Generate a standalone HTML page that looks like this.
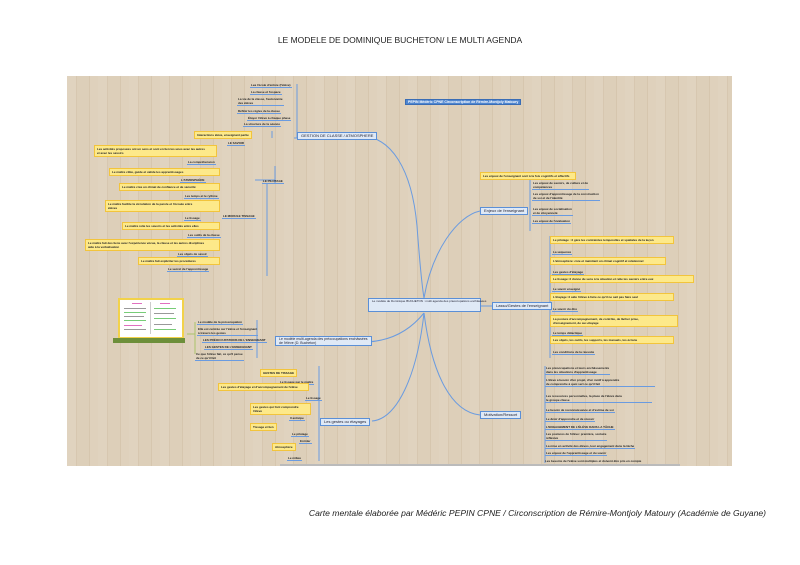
<!DOCTYPE html>
<html><head><meta charset="utf-8"><style>
body{margin:0;width:800px;height:565px;background:#fff;position:relative;overflow:hidden;font-family:"Liberation Sans",sans-serif}
#map{position:absolute;left:67px;top:76px;width:665px;height:390px;background:#dccdb6;
background-image:repeating-linear-gradient(90deg,rgba(255,255,255,.12) 0 9px,rgba(150,120,90,.07) 9px 10px,rgba(255,255,255,.04) 10px 22px,rgba(140,110,80,.08) 22px 23px,rgba(255,255,255,.08) 23px 31px);overflow:hidden}
.a{position:absolute;white-space:nowrap;font-size:3px;line-height:4px;color:#222;font-weight:bold}
.t{border-bottom:1px solid #6a9be0;padding:0 1px}
.y{background:#fde98a;border:1px solid #f2c43c;padding:1px 2px}
.b{background:#dfe9f6;border:1px solid #5b8fd6;font-size:4px;line-height:6px;padding:0 3px;color:#223;font-weight:normal}
.th{position:absolute;height:1px}
</style></head><body>
<div style="position:absolute;top:35px;width:800px;text-align:center;font-size:8.5px;color:#222">LE MODELE DE DOMINIQUE BUCHETON/ LE MULTI AGENDA</div>
<div style="position:absolute;top:508px;right:34px;font-size:8.6px;font-style:italic;color:#222">Carte mentale élaborée par Médéric PEPIN CPNE / Circonscription de Rémire-Montjoly Matoury (Académie de Guyane)</div>
<div id="map">
<svg width="665" height="390" style="position:absolute;left:0;top:0" fill="none" stroke="#6a9be0" stroke-width="1">
<path d="M290 60 C325 58 345 95 350 150 C353 190 355 210 357 222"/>
<path d="M357 222 C365 175 390 140 413 135"/>
<path d="M413 230 h12"/>
<path d="M357 237 C365 300 385 336 413 339"/>
<path d="M357 237 C340 258 320 265 300 266"/>
<path d="M357 237 C350 300 330 343 305 345"/>
<path d="M230 8 V62 M230 62 h-3 M208 90 V108 M208 104 h-20 M200 108 V200 M205 55 V62"/>
<path d="M463 100 V155 M483 160 V282 M478 290 V387 M190 244 V282 M252 290 V385"/>
<path stroke="#aac36a" d="M120 258 h8 v-12 M128 258 v20"/>
</svg>
<div class="a" style="left:338px;top:23px;background:#4f86d0;color:#fff;padding:0 2px;font-size:3.5px;border:1px solid #3a6db5">PEPIN Médéric CPNE Circonscription de Rémire-Montjoly Matoury</div>
<div class="a b" style="left:230px;top:56px">GESTION DE CLASSE / ATMOSPHERE</div>
<div class="a b" style="left:413px;top:131px">Enjeux  de l'enseignant</div>
<div class="a b" style="left:425px;top:226px">Lasso/Gestes de l'enseignant</div>
<div class="a b" style="left:413px;top:335px">Motivation/Ressort</div>
<div class="a b" style="left:208px;top:260px;line-height:4px;font-size:3.5px">Le modèle multi-agenda des préoccupations enchâssées<br>de l'élève (D. Bucheton)</div>
<div class="a b" style="left:253px;top:342px">Les gestes ou étayages</div>
<div class="a b" style="left:301px;top:222px;width:105px;height:12px;line-height:5px;font-size:3px;text-align:center">Le modèle de Dominique BUCHETON : multi agenda des préoccupations enchâssées</div>
<div class="a" style="left:51px;top:222px;width:62px;height:37px;background:#fff;border:2px solid #f2d24a">
<div class="th" style="left:12px;top:3px;width:10px;background:#e070c0"></div>
<div class="th" style="left:40px;top:3px;width:10px;background:#e070c0"></div>
<div class="th" style="left:30px;top:2px;width:1px;height:32px;background:#ccc"></div>
<div class="th" style="left:4px;top:8px;width:22px;background:#999"></div>
<div class="th" style="left:4px;top:12px;width:22px;background:#7c7"></div>
<div class="th" style="left:4px;top:16px;width:20px;background:#999"></div>
<div class="th" style="left:4px;top:20px;width:22px;background:#7c7"></div>
<div class="th" style="left:4px;top:25px;width:18px;background:#e070c0"></div>
<div class="th" style="left:4px;top:29px;width:22px;background:#999"></div>
<div class="th" style="left:34px;top:8px;width:22px;background:#7c7"></div>
<div class="th" style="left:34px;top:13px;width:20px;background:#999"></div>
<div class="th" style="left:34px;top:18px;width:22px;background:#7c7"></div>
<div class="th" style="left:34px;top:24px;width:18px;background:#999"></div>
<div class="th" style="left:34px;top:29px;width:22px;background:#7c7"></div>
</div>
<div class="a" style="left:46px;top:262px;width:72px;height:5px;background:#6d8f3a"></div>
<!-- left top -->
<div class="a t" style="left:183px;top:7px">Lea l'école d'entrée (l'élève)</div>
<div class="a t" style="left:183px;top:14px">La classe et l'espace</div>
<div class="a t" style="left:170px;top:21px">La vie de la classe, l'autonomie<br>des élèves</div>
<div class="a t" style="left:170px;top:33px">Définir les règles de la classe</div>
<div class="a t" style="left:180px;top:40px">Étayer l'élève à chaque phase</div>
<div class="a t" style="left:176px;top:46px">La structure de la séance</div>
<div class="a y" style="left:127px;top:55px">Interactions élève, enseignant partie</div>
<div class="a t" style="left:160px;top:65px">LE SAVOIR</div>
<div class="a t" style="left:195px;top:103px">LE PILOTAGE</div>
<div class="a t" style="left:155px;top:138px">LE MODULE TISSAGE</div>
<div class="a y" style="left:27px;top:69px;width:117px">Les activités proposées ont un sens et sont en lien les unes avec les autres<br>et avec les savoirs</div>
<div class="a t" style="left:120px;top:84px">La compréhension</div>
<div class="a y" style="left:42px;top:92px;width:105px">Le maître cible, guide et valide les apprentissages</div>
<div class="a t" style="left:113px;top:102px">L'ATMOSPHÈRE</div>
<div class="a y" style="left:52px;top:107px;width:95px">Le maître crée un climat de confiance et de sécurité</div>
<div class="a t" style="left:117px;top:118px">Les temps et le rythme</div>
<div class="a y" style="left:38px;top:124px;width:109px">Le maître facilite la circulation de la parole et l'écoute entre<br>élèves</div>
<div class="a t" style="left:117px;top:140px">Le tissage</div>
<div class="a y" style="left:55px;top:146px;width:92px">Le maître relie les savoirs et les activités entre elles</div>
<div class="a t" style="left:120px;top:157px">Les outils de la classe</div>
<div class="a y" style="left:18px;top:163px;width:129px">Le maître fait des liens avec l'expérience vécue, la classe et les autres disciplines<br>aide à la verbalisation</div>
<div class="a t" style="left:110px;top:176px">Les objets de savoir</div>
<div class="a y" style="left:71px;top:181px;width:76px">Le maître fait expliciter les procédures</div>
<div class="a t" style="left:100px;top:191px">Le secret de l'apprentissage</div>
<!-- left middle -->
<div class="a t" style="left:130px;top:244px">Le modèle de la préoccupation</div>
<div class="a t" style="left:130px;top:251px">Elle est centrée sur l'élève et l'enseignant<br>à travers les gestes</div>
<div class="a t" style="left:135px;top:262px">LES PRÉOCCUPATIONS DE L'ENSEIGNANT</div>
<div class="a t" style="left:137px;top:269px">LES GESTES DE L'ENSEIGNANT</div>
<div class="a t" style="left:128px;top:276px">Ce que l'élève fait, ce qu'il pense<br>de ce qu'il fait</div>
<!-- left bottom -->
<div class="a y" style="left:193px;top:293px">GESTES DE TISSAGE</div>
<div class="a t" style="left:212px;top:304px">Le tissage par le maître</div>
<div class="a y" style="left:151px;top:307px;width:85px">Les gestes d'étayage et d'accompagnement de l'élève</div>
<div class="a t" style="left:238px;top:320px">Le tissage</div>
<div class="a y" style="left:183px;top:327px;width:55px">Les gestes qui font comprendre<br>l'élève</div>
<div class="a t" style="left:222px;top:340px">Il anticipe</div>
<div class="a y" style="left:183px;top:347px">Tissage et lien</div>
<div class="a t" style="left:224px;top:356px">Le pilotage</div>
<div class="a t" style="left:232px;top:363px">Enrôler</div>
<div class="a y" style="left:205px;top:367px">Atmosphère</div>
<div class="a t" style="left:220px;top:380px">Le milieu</div>
<!-- right enjeux -->
<div class="a y" style="left:413px;top:96px;width:90px">Les enjeux de l'enseignant sont à la fois cognitifs et affectifs</div>
<div class="a t" style="left:465px;top:105px">Les enjeux de savoirs, de culture et de<br>compétences</div>
<div class="a t" style="left:465px;top:116px">Les enjeux d'apprentissage de la construction<br>de soi et de l'identité</div>
<div class="a t" style="left:465px;top:131px">Les enjeux de socialisation<br>et de citoyenneté</div>
<div class="a t" style="left:465px;top:143px">Les enjeux de l'évaluation</div>
<!-- right lasso -->
<div class="a y" style="left:483px;top:160px;width:118px">Le pilotage : il gère les contraintes temporelles et spatiales de la leçon</div>
<div class="a t" style="left:485px;top:174px">La séquence</div>
<div class="a y" style="left:483px;top:181px;width:110px">L'atmosphère: crée et maintient un climat cognitif et relationnel</div>
<div class="a t" style="left:485px;top:194px">Les gestes d'étayage</div>
<div class="a y" style="left:483px;top:199px;width:138px">Le tissage: il donne du sens à la situation et relie les savoirs entre eux</div>
<div class="a t" style="left:485px;top:211px">Le savoir enseigné</div>
<div class="a y" style="left:483px;top:217px;width:118px">L'étayage: il aide l'élève à faire ce qu'il ne sait pas faire seul</div>
<div class="a t" style="left:485px;top:231px">Le savoir du dire</div>
<div class="a y" style="left:483px;top:239px;width:122px">La posture d'accompagnement, de contrôle, de lâcher prise,<br>d'enseignement, de sur-étayage</div>
<div class="a t" style="left:485px;top:255px">Le temps didactique</div>
<div class="a y" style="left:483px;top:260px;width:118px">Les objets, les outils, les supports, les manuels, les écrans</div>
<div class="a t" style="left:485px;top:274px">Les conditions de la réussite</div>
<!-- right motivation -->
<div class="a t" style="left:478px;top:290px">Les préoccupations et leurs enchâssements<br>dans les situations d'apprentissage</div>
<div class="a t" style="left:478px;top:302px;width:108px">L'élève a besoin d'un projet, d'un motif à apprendre<br>de comprendre à quoi sert ce qu'il fait</div>
<div class="a t" style="left:478px;top:318px;width:105px">Les ressources personnelles, la place de l'élève dans<br>le groupe classe</div>
<div class="a t" style="left:478px;top:332px">Le besoin de reconnaissance et d'estime de soi</div>
<div class="a t" style="left:478px;top:341px">Le désir d'apprendre et de réussir</div>
<div class="a t" style="left:478px;top:349px">L'ENGAGEMENT DE L'ÉLÈVE DANS LA TÂCHE</div>
<div class="a t" style="left:478px;top:356px">Les postures de l'élève: première, scolaire<br>réflexive</div>
<div class="a t" style="left:478px;top:368px">La mise en activité des élèves, leur engagement dans la tâche</div>
<div class="a t" style="left:478px;top:375px">Les enjeux de l'apprentissage et du savoir</div>
<div class="a" style="left:478px;top:383px">Les besoins de l'élève sont multiples et doivent être pris en compte</div>
<div class="a" style="left:213px;top:388px;width:400px;height:2px;background:#bbb"></div>
</div>
</body></html>
